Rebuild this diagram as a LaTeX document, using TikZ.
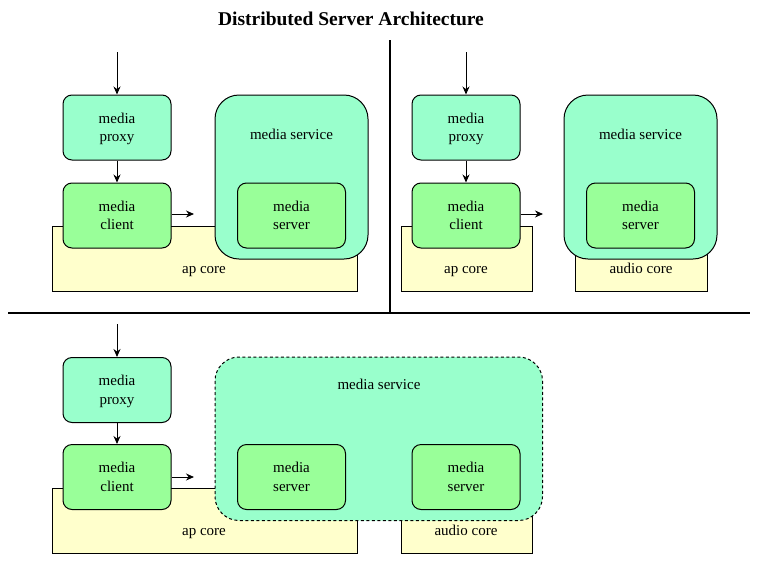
\documentclass[tikz,border=0pt]{standalone}
\usepackage{fontspec}
\setmainfont{Liberation Serif}
\usetikzlibrary{arrows.meta}
\definecolor{aqua}{HTML}{99FFCC}
\definecolor{lgreen}{HTML}{99FF99}
\definecolor{lyellow}{HTML}{FFFFCC}
\tikzset{
  txt/.style={font=\fontsize{15}{18.5}\selectfont, align=center, inner sep=0pt},
  lbl/.style={txt, anchor=base},
  box/.style={draw=black, line width=1pt, rounded corners=9pt, minimum width=108pt, minimum height=65pt, inner sep=0pt, txt, text depth=0pt},
  proxybox/.style={box, fill=aqua},
  clientbox/.style={box, fill=lgreen},
  corebox/.style={draw=black, line width=1pt, fill=lyellow},
  servicebox/.style={draw=black, line width=1pt, fill=aqua, rounded corners=24pt},
  arr/.style={line width=1pt, -{Stealth[length=8pt,width=7pt]}},
  divider/.style={line width=2pt},
}
\begin{document}
\begin{tikzpicture}[x=1pt,y=-1pt]
\useasboundingbox (0,0) rectangle (757,581);
\node[font=\fontsize{19.5}{22}\selectfont\bfseries, inner sep=0pt, anchor=base] (title) at (351,25.5) {Distributed Server Architecture};
% dividers
\coordinate (vtop) at (390,40);
\coordinate (vbot) at (390,313);
\coordinate (hl) at (8,313);
\coordinate (hr) at (750,313);
\draw[divider] (vtop) -- (vbot);
\draw[divider] (hl) -- (hr);

% ---------- top left ----------
\draw[corebox] (52,226) rectangle (357,291);
\node[lbl] (apcA) at (204,273.5) {ap core};
\draw[servicebox] (215,95) rectangle (368,259);
\node[lbl] (svcAl) at (291.5,139) {media service};
\node[proxybox] (pA) at (117,127.5) {media\\proxy};
\node[clientbox] (cA) at (117,215.5) {media\\client};
\node[clientbox] (sA) at (291.5,215.5) {media\\server};
\coordinate (inA) at (117,52);
\coordinate (outA) at (194,214);
\draw[arr] (inA) -- (pA);
\draw[arr] (pA) -- (cA);
\draw[arr] (cA.east |- outA) -- (outA);

% ---------- top right ----------
\draw[corebox] (401,226) rectangle (532,291);
\node[lbl] (apcB) at (466,273.5) {ap core};
\draw[corebox] (575,226) rectangle (707,291);
\node[lbl] (aucB) at (641,273.5) {audio core};
\draw[servicebox] (564,95) rectangle (717,259);
\node[lbl] (svcBl) at (640.5,139) {media service};
\node[proxybox] (pB) at (466,127.5) {media\\proxy};
\node[clientbox] (cB) at (466,215.5) {media\\client};
\node[clientbox] (sB) at (640.5,215.5) {media\\server};
\coordinate (inB) at (466,52);
\coordinate (outB) at (543,214);
\draw[arr] (inB) -- (pB);
\draw[arr] (pB) -- (cB);
\draw[arr] (cB.east |- outB) -- (outB);

% ---------- bottom ----------
\draw[corebox] (52,488) rectangle (357,553);
\node[lbl] (apcC) at (204,535.5) {ap core};
\draw[corebox] (401,488) rectangle (532,553);
\node[lbl] (aucC) at (466,535.5) {audio core};
\draw[servicebox, dash pattern=on 3pt off 2.5pt] (215,357) rectangle (542.5,520.5);
\node[lbl] (svcCl) at (379,389) {media service};
\node[proxybox] (pC) at (117,390) {media\\proxy};
\node[clientbox] (cC) at (117,477) {media\\client};
\node[clientbox] (sC1) at (291.5,477) {media\\server};
\node[clientbox] (sC2) at (466,477) {media\\server};
\coordinate (inC) at (117,324);
\coordinate (outC) at (194,477);
\draw[arr] (inC) -- (pC);
\draw[arr] (pC) -- (cC);
\draw[arr] (cC.east |- outC) -- (outC);
\end{tikzpicture}
\end{document}
